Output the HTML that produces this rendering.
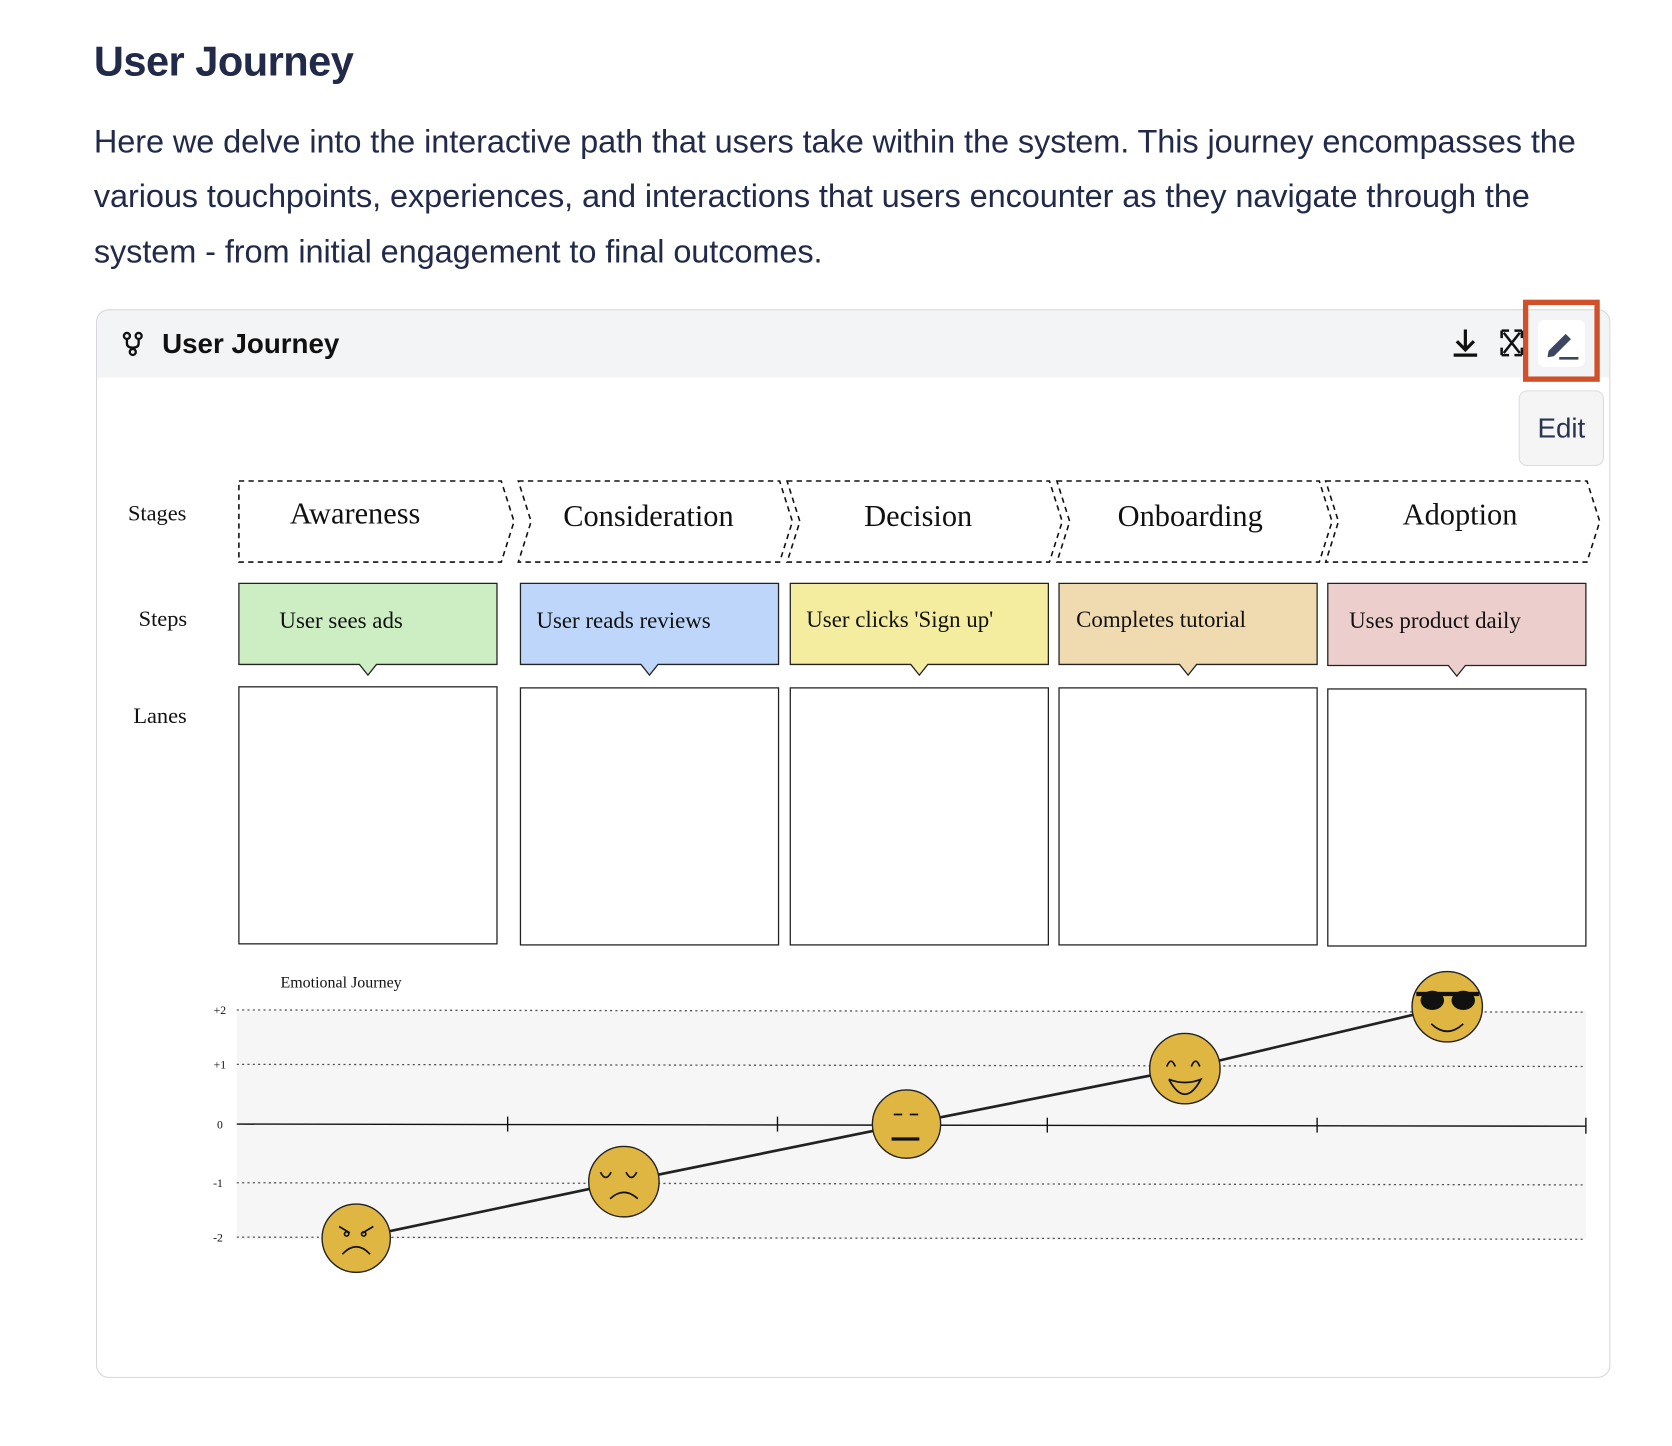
<!DOCTYPE html>
<html><head><meta charset="utf-8"><style>
html,body{margin:0;padding:0;background:#fff;width:1672px;height:1446px;overflow:hidden}
#w{position:absolute;left:0;top:0;width:1568px;height:1356px;transform:scale(1.0665);transform-origin:0 0;font-family:"Liberation Sans",sans-serif;color:#222a4a}
h1{position:absolute;left:88px;top:37px;margin:0;font-size:39px;font-weight:600;letter-spacing:-0.5px}
.p{position:absolute;left:88px;font-size:30.5px;white-space:nowrap;letter-spacing:-0.1px}
.card{position:absolute;left:90px;top:290px;width:1418px;height:1000px;border:1.5px solid #d6d6db;border-radius:12px;overflow:hidden}
.hdr{position:absolute;left:0;top:0;width:100%;height:63px;background:#f3f4f6}
.ht{position:absolute;left:61px;top:16px;font-size:26px;font-weight:600;color:#111}
.orange{position:absolute;left:1428px;top:281px;width:62px;height:67px;border:5px solid #d0502a}
.tip{position:absolute;left:1424px;top:366px;width:78px;height:69px;background:#f5f5f6;border:1.5px solid #dcdce0;border-radius:8px;font-size:26px;text-align:center;line-height:69px;color:#2a3350}
</style></head><body><div id="w">
<h1>User Journey</h1>
<div class="p" style="top:116px">Here we delve into the interactive path that users take within the system. This journey encompasses the</div>
<div class="p" style="top:167px">various touchpoints, experiences, and interactions that users encounter as they navigate through the</div>
<div class="p" style="top:219px">system - from initial engagement to final outcomes.</div>
<div class="card"><div class="hdr"></div><div class="ht">User Journey</div></div>
<div class="orange"></div>
<div style="position:absolute;left:1442px;top:300px;width:44px;height:44px;background:#fff;border-radius:6px"></div>
<div class="tip">Edit</div>
<svg width="1568" height="1356" style="position:absolute;left:0;top:0" font-family="Liberation Serif, serif">
<g stroke="#111" stroke-width="2.2" fill="none">
<circle cx="119" cy="315" r="2.8"/><circle cx="130" cy="315" r="2.8"/><circle cx="124.5" cy="330" r="2.8"/>
<path d="M119 318 v4 q0 4 5.5 4 q5.5 0 5.5 -4 v-4 M124.5 326 v1"/>
<path d="M1374 309 v18 M1366 320 l8 8 l8 -8 M1363 333 h22" stroke-width="3"/>
<path d="M1408 310 h7 M1408 310 v7 M1427 310 h-7 M1427 310 v7 M1408 333 h7 M1408 333 v-7 M1427 333 h-7 M1427 333 v-7 M1410 312 l15 19 M1425 312 l-15 19" stroke-width="2.4"/>
</g>
<path d="M1452 329 l16 -16 l5 5 l-16 16 l-6 1 z" fill="#3d4660"/>
<path d="M1462 336 h18" stroke="#3d4660" stroke-width="2.5"/>
<g font-size="21" fill="#111"><text x="120" y="488">Stages</text><text x="130" y="587">Steps</text><text x="125" y="678">Lanes</text></g>
<g fill="none" stroke="#111" stroke-width="1.5" stroke-dasharray="5,4">
<path d="M224 451 H470 L482 489 L470 527 H224 Z"/>
<path d="M486 451 H731 L743 489 L731 527 H486 L498 489 Z"/>
<path d="M738 451 H984 L996 489 L984 527 H738 L750 489 Z"/>
<path d="M991 451 H1237 L1249 489 L1237 527 H991 L1003 489 Z"/>
<path d="M1243 451 H1488 L1500 489 L1488 527 H1243 L1255 489 Z"/>
</g>
<g font-size="28.5" fill="#111" text-anchor="middle">
<text x="333" y="491">Awareness</text><text x="608" y="493">Consideration</text><text x="861" y="493">Decision</text><text x="1116" y="493">Onboarding</text><text x="1369" y="492">Adoption</text>
</g>
<g stroke="#222" stroke-width="1.2">
<path d="M224 547 H466 V623 H353 L345 633 L337 623 H224 Z" fill="#cdedc3"/>
<path d="M488 547 H730 V623 H617 L609 633 L601 623 H488 Z" fill="#bdd6fa"/>
<path d="M741 547 H983 V623 H870 L862 633 L854 623 H741 Z" fill="#f4ec9e"/>
<path d="M993 547 H1235 V623 H1122 L1114 633 L1106 623 H993 Z" fill="#f0daaf"/>
<path d="M1245 547 H1487 V624 H1374 L1366 634 L1358 624 H1245 Z" fill="#eccfcc"/>
</g>
<g font-size="21.5" fill="#111">
<text x="262" y="589">User sees ads</text><text x="503" y="589">User reads reviews</text><text x="756" y="588">User clicks 'Sign up'</text><text x="1009" y="588">Completes tutorial</text><text x="1265" y="589">Uses product daily</text>
</g>
<g fill="#fff" stroke="#222" stroke-width="1.2">
<rect x="224" y="644" width="242" height="241"/><rect x="488" y="645" width="242" height="241"/><rect x="741" y="645" width="242" height="241"/><rect x="993" y="645" width="242" height="241"/><rect x="1245" y="646" width="242" height="241"/>
</g>
<text x="263" y="926" font-size="15" fill="#111">Emotional Journey</text>
<rect x="222" y="948" width="1265" height="214" fill="#f6f6f6"/>
<g stroke="#555" stroke-width="1.2" stroke-dasharray="2,3">
<line x1="222" y1="947" x2="1487" y2="949"/><line x1="222" y1="998" x2="1487" y2="1000"/><line x1="222" y1="1109" x2="1487" y2="1111"/><line x1="222" y1="1160" x2="1487" y2="1162"/>
</g>
<g stroke="#111" stroke-width="1.3"><line x1="222" y1="1054" x2="1487" y2="1056"/>
<line x1="476" y1="1047" x2="476" y2="1061"/><line x1="729" y1="1047" x2="729" y2="1061"/><line x1="982" y1="1048" x2="982" y2="1062"/><line x1="1235" y1="1048" x2="1235" y2="1062"/><line x1="1487" y1="1048" x2="1487" y2="1063"/></g>
<g font-size="11" fill="#111" text-anchor="end"><text x="212" y="951">+2</text><text x="212" y="1002">+1</text><text x="209" y="1058">0</text><text x="209" y="1113">-1</text><text x="209" y="1164">-2</text></g>
<polyline points="334,1161 585,1108 850,1054 1111,1002 1357,944" fill="none" stroke="#222" stroke-width="2.5"/>
<g fill="#dfb642" stroke="#222" stroke-width="1.3">
<circle cx="334" cy="1161" r="32"/><circle cx="585" cy="1108" r="33"/><circle cx="850" cy="1054" r="32"/><circle cx="1111" cy="1002" r="33"/><circle cx="1357" cy="944" r="33"/>
</g>
<g fill="none" stroke="#111" stroke-width="1.6">
<path d="M321 1176 q13 -14 26 0"/><path d="M318 1150 l10 6 M350 1150 l-10 6"/><circle cx="325" cy="1157" r="2"/><circle cx="341" cy="1157" r="2"/>
<path d="M572 1124 q13 -12 26 0"/><path d="M563 1099 q5 10 10 0 M587 1099 q5 10 10 0"/>
<path d="M838 1045 h8 M853 1045 h8"/><path d="M836 1068 h26" stroke-width="3"/>
<path d="M1094 1000 q4 -10 8 0 M1117 1000 q4 -10 8 0"/><path d="M1096 1012 q15 28 30 0 q-15 6 -30 0"/>
<path d="M1342 960 q15 14 30 0"/>
</g>
<g fill="#111"><ellipse cx="1343" cy="938" rx="11" ry="9"/><ellipse cx="1372" cy="938" rx="11" ry="9"/><rect x="1328" y="930" width="59" height="4"/></g>
</svg>
</div></body></html>
